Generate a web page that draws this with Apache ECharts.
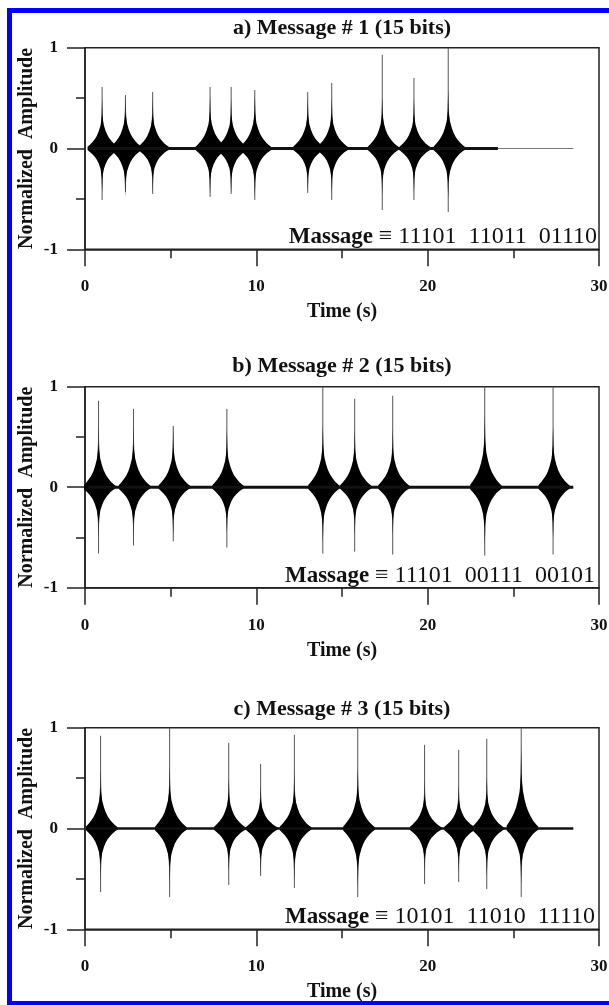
<!DOCTYPE html>
<html>
<head>
<meta charset="utf-8">
<script src="https://cdn.jsdelivr.net/npm/echarts@6/dist/echarts.min.js"></script>
<style>
  html, body { margin: 0; padding: 0; background: #fff; }
  #main { width: 609px; height: 1005px; }
</style>
</head>
<body>
<div id="main"></div>
<script>
// axis ticks
var timeTicks = [0, 10, 20, 30];
var ampTicks = [-1, 0, 1];

// a) message 1 : one burst per "1" bit
var burstTimeA = [1.0, 2.36, 3.95, 7.3, 8.53, 9.91, 13.0, 14.4, 17.35, 19.2, 21.2];
var peakUpA = [0.61, 0.53, 0.56, 0.61, 0.61, 0.58, 0.56, 0.65, 0.93, 0.70, 1.0];
var peakDownA = [-0.51, -0.43, -0.45, -0.48, -0.45, -0.51, -0.44, -0.51, -0.61, -0.51, -0.63];
var coreUpA = [0.34, 0.36, 0.34, 0.36, 0.34, 0.37, 0.35, 0.35, 0.36, 0.34, 0.40];
var coreDownA = [0.30, 0.33, 0.29, 0.31, 0.30, 0.33, 0.29, 0.31, 0.32, 0.30, 0.34];

// b) message 2
var burstTimeB = [0.79, 2.83, 5.15, 8.28, 13.88, 15.74, 17.96, 23.33, 27.32];
var peakUpB = [0.86, 0.78, 0.61, 0.78, 1.0, 0.88, 0.91, 1.0, 1.0];
var peakDownB = [-0.66, -0.58, -0.54, -0.60, -0.66, -0.64, -0.67, -0.68, -0.67];
var coreUpB = [0.42, 0.42, 0.40, 0.40, 0.43, 0.40, 0.40, 0.50, 0.42];
var coreDownB = [0.35, 0.35, 0.33, 0.32, 0.38, 0.33, 0.33, 0.40, 0.35];

// c) message 3
var burstTimeC = [0.91, 4.94, 8.39, 10.25, 12.22, 15.92, 19.82, 21.81, 23.45, 25.46];
var peakUpC = [0.92, 1.0, 0.85, 0.64, 0.93, 1.0, 0.83, 0.78, 0.89, 1.0];
var peakDownC = [-0.63, -0.68, -0.56, -0.47, -0.59, -0.68, -0.55, -0.53, -0.60, -0.68];
var coreUpC = [0.40, 0.42, 0.35, 0.30, 0.38, 0.42, 0.33, 0.30, 0.36, 0.55];
var coreDownC = [0.35, 0.38, 0.30, 0.30, 0.35, 0.40, 0.30, 0.30, 0.33, 0.38];

// burst envelope (time offset in s, fraction of core height)
var envOffset = [-0.85, -0.7, -0.55, -0.42, -0.3, -0.2, -0.1, -0.04, 0, 0.04, 0.1, 0.2, 0.3, 0.42, 0.55, 0.7, 0.85, 1.0];
var envShape = [0.05, 0.12, 0.2, 0.28, 0.38, 0.5, 0.66, 0.84, 1, 0.86, 0.68, 0.52, 0.4, 0.3, 0.22, 0.14, 0.08, 0.03];
// darker taper between the core tip and the thin spike (offset s, fraction of core height)
var taperOffset = [-0.07, 0, 0.07];
var taperShape = [0.6, 1.45, 0.6];

// background trace along zero
var traceA = [[0.25, 0], [24.1, 0]];
var tailA = [[24.1, 0], [28.5, 0]];
var traceB = [[0.2, 0], [28.5, 0]];
var traceC = [[0.2, 0], [28.5, 0]];

var titles = ['a) Message # 1 (15 bits)', 'b) Message # 2 (15 bits)', 'c) Message # 3 (15 bits)'];
var codes = ['11101  11011  01110', '11101  00111  00101', '10101  11010  11110'];

var serif = "'Liberation Serif', 'Times New Roman', serif";
var gridTop = [47.7, 386.7, 727.7];
var gridH = [201.6, 201, 201.6];
var titleTop = [17, 355, 698];
var codeTop = [225, 564, 905];
var codeRight = [12, 14, 14];

function rows(t, up, dn, cu, cd) {
  return t.map(function (v, i) { return [v, up[i], dn[i], cu[i], cd[i]]; });
}

function outline(api, t, cu, cd, offs, shape) {
  var top = [], bot = [];
  offs.forEach(function (dt, k) {
    top.push(api.coord([t + dt, cu * shape[k]]));
    bot.unshift(api.coord([t + dt, -cd * shape[k]]));
  });
  return top.concat(bot);
}

function renderBurst(params, api) {
  var t = api.value(0), up = api.value(1), dn = api.value(2);
  var cu = api.value(3), cd = api.value(4);
  var pU = api.coord([t, up]), pD = api.coord([t, dn]);
  return {
    type: 'group',
    children: [
      { type: 'line', shape: { x1: pU[0], y1: pU[1], x2: pD[0], y2: pD[1] },
        style: { stroke: '#555', lineWidth: 1 } },
      { type: 'polygon', shape: { points: outline(api, t, cu, cd, taperOffset, taperShape) },
        style: { fill: '#333' } },
      { type: 'polygon', shape: { points: outline(api, t, cu, cd, envOffset, envShape) },
        style: { fill: '#000' } }
    ]
  };
}

var axisCol = '#222';
var txt = '#111';
var grids = [], xAxes = [], yAxes = [], titleList = [];
for (var i = 0; i < 3; i++) {
  grids.push({ left: 85, width: 514, top: gridTop[i], height: gridH[i], show: true,
    borderColor: axisCol, borderWidth: 1.5, outerBoundsMode: 'none' });
  xAxes.push({
    gridIndex: i, type: 'value', min: 0, max: 30, interval: 10,
    axisLine: { onZero: false, lineStyle: { color: axisCol, width: 1.5 } },
    axisTick: { length: 17, lineStyle: { color: axisCol, width: 1.5 } },
    minorTick: { show: true, splitNumber: 2, length: 9, lineStyle: { color: axisCol, width: 1.5 } },
    splitLine: { show: false },
    axisLabel: { margin: 29, fontFamily: serif, fontWeight: 'bold', fontSize: 17, color: txt,
      customValues: timeTicks },
    name: 'Time (s)', nameLocation: 'middle', nameGap: 53, nameMoveOverlap: false,
    nameTextStyle: { fontFamily: serif, fontWeight: 'bold', fontSize: 20, color: txt }
  });
  yAxes.push({
    gridIndex: i, type: 'value', min: -1, max: 1, interval: 1,
    axisLine: { onZero: false, lineStyle: { color: axisCol, width: 1.5 } },
    axisTick: { length: 18, lineStyle: { color: axisCol, width: 1.5 } },
    minorTick: { show: true, splitNumber: 2, length: 9, lineStyle: { color: axisCol, width: 1.5 } },
    splitLine: { show: false },
    axisLabel: { margin: 27, fontFamily: serif, fontWeight: 'bold', fontSize: 17, color: txt,
      customValues: ampTicks },
    name: 'Normalized  Amplitude', nameLocation: 'middle', nameGap: 48, nameMoveOverlap: false,
    nameTextStyle: { fontFamily: serif, fontWeight: 'bold', fontSize: 20, color: txt }
  });
  titleList.push({ text: titles[i], left: 342, top: titleTop[i], textAlign: 'center', padding: 0,
    textStyle: { fontFamily: serif, fontWeight: 'bold', fontSize: 22, color: txt } });
  titleList.push({ text: '{b|Massage} {r|\u2261 ' + codes[i] + '}', right: codeRight[i], top: codeTop[i], padding: 0,
    textStyle: { fontFamily: serif, fontWeight: 'normal', fontSize: 23, color: txt,
      rich: { b: { fontFamily: serif, fontWeight: 'bold', fontSize: 23, color: txt },
              r: { fontFamily: serif, fontWeight: 'normal', fontSize: 24, color: txt } } } });
}

function trace(data, idx, w, col) {
  return { type: 'line', xAxisIndex: idx, yAxisIndex: idx, data: data, showSymbol: false,
    symbol: 'none', silent: true, lineStyle: { color: col, width: w } };
}
function bursts(data, idx) {
  return { type: 'custom', xAxisIndex: idx, yAxisIndex: idx, data: data,
    renderItem: renderBurst, encode: { x: 0, y: 1 }, silent: true };
}

var chart = echarts.init(document.getElementById('main'));
chart.setOption({
  animation: false,
  backgroundColor: '#fff',
  title: titleList,
  grid: grids,
  xAxis: xAxes,
  yAxis: yAxes,
  graphic: [{ type: 'rect', shape: { x: 9.5, y: 10.5, width: 640, height: 993 },
    style: { fill: 'none', stroke: '#0000ff', lineWidth: 5 }, silent: true }],
  series: [
    trace(traceA, 0, 3, '#111'), trace(tailA, 0, 1, '#777'),
    bursts(rows(burstTimeA, peakUpA, peakDownA, coreUpA, coreDownA), 0),
    trace(traceB, 1, 3, '#111'),
    bursts(rows(burstTimeB, peakUpB, peakDownB, coreUpB, coreDownB), 1),
    trace(traceC, 2, 2.5, '#111'),
    bursts(rows(burstTimeC, peakUpC, peakDownC, coreUpC, coreDownC), 2)
  ]
});
</script>
</body>
</html>
